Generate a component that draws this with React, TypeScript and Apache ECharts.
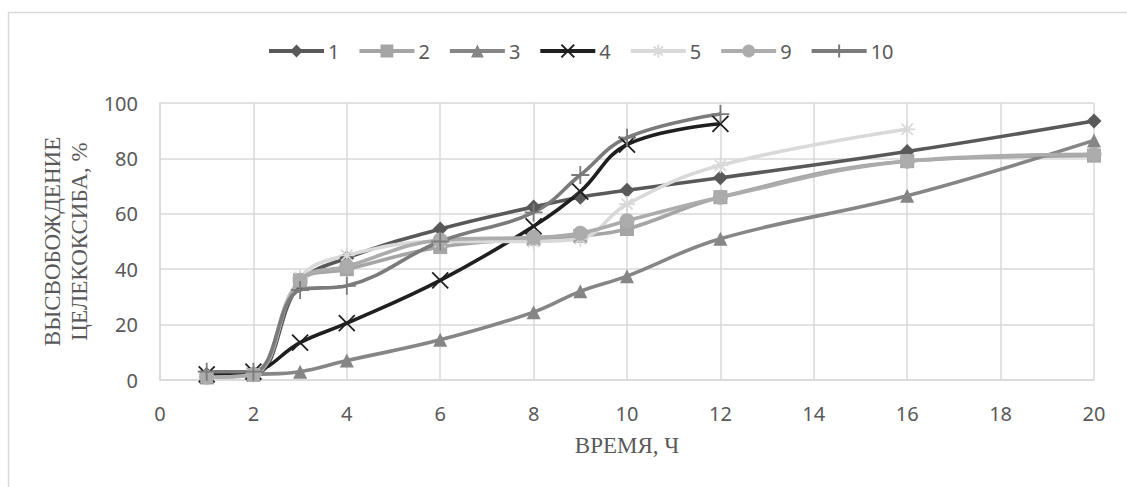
import React, { useEffect, useRef } from "react";
import * as echarts from "echarts";

const timeLong = [1, 2, 3, 4, 6, 8, 9, 10, 12, 16, 20];
const timeMid = [1, 2, 3, 4, 6, 8, 9, 10, 12, 16];
const timeShort = [1, 2, 3, 4, 6, 8, 9, 10, 12];

const s1 = [2, 2, 35, 44, 54.5, 62.5, 66, 68.5, 73, 82.5, 93.5];
const s2 = [1, 2, 36, 40, 48, 51, 52, 54.5, 66, 79, 81];
const s3 = [1, 2, 3, 7, 14.5, 24.5, 32, 37.5, 51, 66.5, 86.5];
const s4 = [2, 3, 13.5, 20.5, 36, 55.5, 68, 85, 92.5];
const s5 = [1, 2, 37, 45, 50, 50, 51, 63.5, 77.5, 90.5];
const s9 = [1, 2, 36, 41, 50.5, 51.5, 53, 57.5, 66, 79, 81.5];
const s10 = [3, 3, 32.5, 34, 50, 60.5, 74, 87.5, 96];

const seriesNames = ["1", "2", "3", "4", "5", "9", "10"];
const xTicks = { min: 0, max: 20, interval: 2 };
const yTicks = { min: 0, max: 100, interval: 20 };

const pair = (xs: number[], ys: number[]) => ys.map((y, i) => [xs[i], y]);

const X_PATH = "path://M0,0L10,10M10,0L0,10";
const STAR_PATH = "path://M0,5L10,5M5,0L5,10M1.5,1.5L8.5,8.5M8.5,1.5L1.5,8.5";
const PLUS_PATH = "path://M5,0L5,10M4.9,5L5.1,5";

export default function App() {
  const ref = useRef<HTMLDivElement>(null);
  useEffect(() => {
    if (!ref.current) return;
    const chart = echarts.init(ref.current, undefined, { renderer: "svg" });
    const mk = (
      name: string,
      data: number[][],
      color: string,
      symbol: string,
      symbolSize: number,
      stroked = false
    ) => ({
      name,
      type: "line",
      data,
      smooth: 0.4,
      symbol,
      symbolSize,
      color,
      lineStyle: { color, width: 3.6 },
      itemStyle: stroked
        ? { color: "rgba(0,0,0,0)", borderColor: color, borderWidth: 1.8 }
        : { color, borderWidth: 0 },
      emphasis: { disabled: true },
    });
    const tickFont = { color: "#595959", fontSize: 20, fontFamily: "Noto Sans" };
    chart.setOption({
      animation: false,
      graphic: [
        {
          type: "rect",
          shape: { x: 8.5, y: 12.5, width: 1400, height: 800 },
          style: { fill: "none", stroke: "#d9d9d9", lineWidth: 1.5 },
          silent: true,
        },
      ],
      legend: {
        top: 36,
        left: 262,
        itemWidth: 55,
        itemHeight: 16,
        itemGap: 18,
        lineStyle: { width: 4 },
        textStyle: { ...tickFont, padding: [0, 0, 0, -1] },
        data: seriesNames,
      },
      grid: { left: 160, right: 33, top: 103, bottom: 107, containLabel: false },
      xAxis: {
        type: "value",
        ...xTicks,
        name: "ВРЕМЯ, Ч",
        nameLocation: "middle",
        nameGap: 54,
        nameTextStyle: { color: "#595959", fontSize: 23, fontFamily: "Liberation Serif" },
        axisLine: { show: true, lineStyle: { color: "#d9d9d9", width: 1.5 } },
        axisTick: { show: false },
        axisLabel: { ...tickFont, margin: 23 },
        splitLine: { show: true, lineStyle: { color: "#d9d9d9", width: 1.5 } },
      },
      yAxis: {
        type: "value",
        ...yTicks,
        name: "ВЫСВОБОЖДЕНИЕ\nЦЕЛЕКОКСИБА, %",
        nameLocation: "middle",
        nameGap: 65,
        nameTextStyle: {
          color: "#595959",
          fontSize: 23,
          fontFamily: "Liberation Serif",
          lineHeight: 27,
        },
        axisLine: { show: true, lineStyle: { color: "#d9d9d9", width: 1.5 } },
        axisTick: { show: false },
        axisLabel: { ...tickFont, margin: 22 },
        splitLine: { show: true, lineStyle: { color: "#d9d9d9", width: 1.5 } },
      },
      series: [
        mk("1", pair(timeLong, s1), "#595959", "diamond", 15),
        mk("2", pair(timeLong, s2), "#a5a5a5", "rect", 14),
        mk("3", pair(timeLong, s3), "#868686", "triangle", 14),
        mk("4", pair(timeShort, s4), "#1f1f1f", X_PATH, 16, true),
        mk("5", pair(timeMid, s5), "#d9d9d9", STAR_PATH, 16, true),
        mk("9", pair(timeLong, s9), "#acacac", "circle", 15),
        mk("10", pair(timeShort, s10), "#7b7b7b", PLUS_PATH, 18, true),
      ],
    });
    return () => chart.dispose();
  }, []);
  return (
    <div
      ref={ref}
      style={{ position: "absolute", left: 0, top: 0, width: 1127, height: 487, background: "#fff" }}
    />
  );
}
